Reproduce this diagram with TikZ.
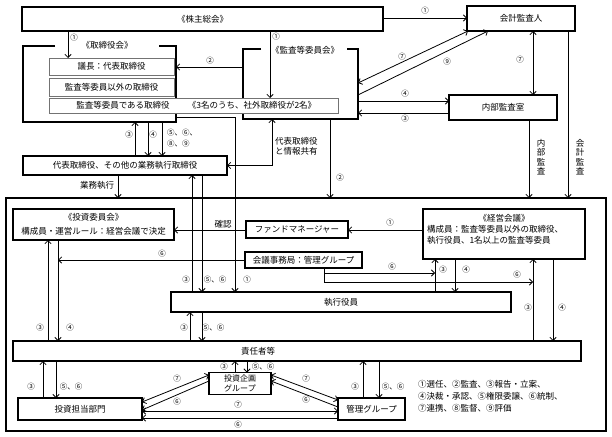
\documentclass[tikz,border=0pt]{standalone}
\usepackage{fontspec}
\setmainfont{Noto Sans CJK JP}
\usetikzlibrary{arrows.meta,calc}
\begin{document}
\begin{tikzpicture}[x=1pt,y=-1pt,
  every node/.style={inner sep=0pt, outer sep=0pt},
  thickbox/.style={draw, line width=1.6pt, fill=white, anchor=north west, font=\fontsize{8.5}{11}\selectfont, align=center},
  thinbox/.style={draw=black!55, line width=0.8pt, fill=white, anchor=north west, font=\fontsize{8.5}{11}\selectfont},
  frameline/.style={line width=1.6pt},
  txt/.style={font=\fontsize{8.5}{11}\selectfont},
  num/.style={font=\fontsize{7.5}{9}\selectfont},
  ln/.style={line width=0.8pt},
  arr/.style={ln, -{Straight Barb[length=3.2pt,width=6.4pt]}},
  darr/.style={ln, {Straight Barb[length=3.2pt,width=6.4pt]}-{Straight Barb[length=3.2pt,width=6.4pt]}}
]
\useasboundingbox (0,0) rectangle (612,436);

% big frame
\node[draw, line width=1.6pt, minimum width=600pt, minimum height=233pt, anchor=north west] (big) at (6,198) {};

% top area
\node[thickbox, minimum width=361pt, minimum height=24pt] (kabu) at (22,7) {《株主総会》};
\node[minimum width=153pt, minimum height=76pt, anchor=north west] (tfr) at (23,46) {};
\node[minimum width=115pt, minimum height=70pt, anchor=north west] (kfr) at (243,49) {};
\draw[frameline] ($(tfr.north west)+(32,0)$) -- (tfr.north west) -- (tfr.south west) -- (tfr.south east) -- (tfr.north east) -- ($(tfr.north east)+(-17,0)$);
\draw[frameline] ($(kfr.north west)+(18,0)$) -- (kfr.north west) -- (kfr.south west) -- (kfr.south east) -- (kfr.north east) -- ($(kfr.north east)+(-11,0)$);
\node[txt] (tfrL) at (107,45) {《取締役会》};
\node[txt] (kfrL) at (305,50) {《監査等委員会》};

\node[thinbox, minimum width=125pt, minimum height=17pt] (gichou) at (49,58) {議長：代表取締役};
\node[thinbox, minimum width=125pt, minimum height=18pt] (igai) at (49,78) {監査等委員以外の取締役};
\node[thinbox, minimum width=289pt, minimum height=15pt] (kt) at (49,98) {};
\node[txt] (ktA) at (123,105.5) {監査等委員である取締役};
\node[txt] (ktB) at (252,105.5) {《3名のうち、社外取締役が2名》};

\node[thickbox, minimum width=204pt, minimum height=19pt] (daihyo) at (23,156) {代表取締役、その他の業務執行取締役};
\node[thickbox, minimum width=108pt, minimum height=25pt] (kaikei) at (467,6) {会計監査人};
\node[thickbox, minimum width=108pt, minimum height=25pt] (naibu) at (449,95) {内部監査室};

% inside big frame
\node[thickbox, minimum width=161pt, minimum height=31pt, font=\fontsize{8.5}{13.5}\selectfont] (tiin) at (13,209) {《投資委員会》\\構成員・運営ルール：経営会議で決定};
\node[thickbox, minimum width=102pt, minimum height=17pt] (fund) at (246,221) {ファンドマネージャー};
\node[thickbox, minimum width=162pt, minimum height=50pt] (keiei) at (423,209) {};
\node[txt] (keieiT) at (504,218) {《経営会議》};
\node[txt, anchor=west, align=left, font=\fontsize{8.5}{10.5}\selectfont] (keieiB) at (427,235) {構成員：監査等委員以外の取締役、\\執行役員、1名以上の監査等委員};
\node[thickbox, minimum width=117pt, minimum height=16pt] (jim) at (245,252) {会議事務局：管理グループ};
\node[thickbox, minimum width=340pt, minimum height=20pt] (shikkou) at (171,292) {執行役員};
\node[thickbox, minimum width=568pt, minimum height=20pt] (sekinin) at (13,341) {};
\node[txt] (sekininT) at (258,351) {責任者等};
\node[thickbox, minimum width=124pt, minimum height=22pt] (tantou) at (18,398) {投資担当部門};
\node[thickbox, minimum width=62pt, minimum height=22pt, font=\fontsize{8}{10}\selectfont] (kikaku) at (209,372.5) {投資企画\\グループ};
\node[thickbox, minimum width=67pt, minimum height=22pt] (kanri) at (338,398) {管理グループ};

\node[txt, anchor=west, align=left, font=\fontsize{8.5}{12}\selectfont] (legend) at (418,396) {①選任、②監査、③報告・立案、\\④決裁・承認、⑤権限委譲、⑥統制、\\⑦連携、⑧監督、⑨評価};

% connectors, top
\draw[arr] ($(kabu.south west)+(46,0)$) -- ($(gichou.north west)+(19,0)$);
\draw[arr] ($(kabu.south west)+(248,0)$) -- ($(kt.north west)+(221,0)$);
\draw[arr] ($(kabu.north east)+(0,11)$) -- ($(kaikei.north west)+(0,12)$);
\draw[arr] ($(kfr.north west)+(0,18)$) -- ($(tfr.north east)+(0,21)$);
\draw[arr] ($(daihyo.north west)+(112,0)$) -- ($(tfr.south west)+(112,0)$);
\draw[arr] ($(tfr.south west)+(125,0)$) -- ($(daihyo.north west)+(125,0)$);
\draw[arr] ($(tfr.south west)+(139,0)$) -- ($(daihyo.north west)+(139,0)$);
\draw[arr] ($(tfr.south east)+(0,-5)$) -| ($(shikkou.north west)+(64,0)$);
\draw[darr] ($(kfr.south west)+(29,0)$) |- (daihyo.east);
\draw[arr] ($(kfr.south west)+(87,0)$) -- ($(big.north west)+(324,0)$);
\draw[darr] ($(kfr.north east)+(0,34)$) -- ($(kaikei.south west)+(1,0)$);
\draw[arr] ($(kfr.north east)+(0,46)$) -- ($(kaikei.south west)+(21,0)$);
\draw[darr] ($(kaikei.south west)+(66,0)$) -- ($(naibu.north west)+(84,0)$);
\draw[arr] ($(kfr.north east)+(0,52)$) -- ($(naibu.north west)+(0,6)$);
\draw[arr] ($(naibu.north west)+(0,18)$) -- ($(kfr.north east)+(0,64)$);
\draw[arr] ($(naibu.south west)+(80,0)$) -- ($(big.north west)+(523,0)$);
\draw[arr] ($(kaikei.south west)+(101,0)$) -- ($(big.north west)+(562,0)$);
\draw[arr] ($(daihyo.south west)+(95,0)$) -- ($(big.north west)+(112,0)$);

% connectors, inside
\draw[arr] ($(fund.north west)+(0,9)$) -- ($(tiin.north east)+(0,21)$);
\draw[arr] ($(keiei.north west)+(0,21)$) -- ($(fund.north east)+(0,9)$);
\coordinate (j6) at (58,260);
\draw[arr] ($(jim.north west)+(0,8)$) -- (j6);
\draw[arr] ($(jim.south west)+(79,0)$) |- ($(shikkou.north west)+(264,-19)$);
\draw[arr] ($(jim.south west)+(79,0)$) |- ($(sekinin.north west)+(520,-59)$);
\draw[arr] ($(shikkou.north west)+(21,0)$) -- ($(daihyo.south west)+(169,0)$);
\draw[arr] ($(daihyo.south west)+(179,0)$) -- ($(shikkou.north west)+(31,0)$);
\draw[arr] ($(shikkou.north west)+(264,0)$) -- ($(keiei.south west)+(12,0)$);
\draw[arr] ($(keiei.south west)+(32,0)$) -- ($(shikkou.north west)+(284,0)$);
\draw[arr] ($(sekinin.north west)+(520,0)$) -- ($(keiei.south west)+(110,0)$);
\draw[arr] ($(keiei.south west)+(130,0)$) -- ($(sekinin.north west)+(540,0)$);
\draw[arr] ($(sekinin.north west)+(35,0)$) -- ($(tiin.south west)+(35,0)$);
\draw[arr] ($(tiin.south west)+(45,0)$) -- ($(sekinin.north west)+(45,0)$);
\draw[arr] ($(sekinin.north west)+(177,0)$) -- ($(shikkou.south west)+(19,0)$);
\draw[arr] ($(shikkou.south west)+(31,0)$) -- ($(sekinin.north west)+(189,0)$);
\draw[arr] ($(tantou.north west)+(25,0)$) -- ($(sekinin.south west)+(30,0)$);
\draw[arr] ($(sekinin.south west)+(43,0)$) -- ($(tantou.north west)+(38,0)$);
\draw[arr] ($(kikaku.north west)+(26,0)$) -- ($(sekinin.south west)+(222,0)$);
\draw[arr] ($(sekinin.south west)+(234,0)$) -- ($(kikaku.north west)+(38,0)$);
\draw[arr] ($(kanri.north west)+(25,0)$) -- ($(sekinin.south west)+(350,0)$);
\draw[arr] ($(sekinin.south west)+(366,0)$) -- ($(kanri.north west)+(41,0)$);
\draw[darr] ($(tantou.north east)+(0,4)$) -- ($(kikaku.north west)+(0,2.5)$);
\draw[arr] ($(kikaku.north west)+(0,8.5)$) -- ($(tantou.north east)+(0,12)$);
\draw[darr] ($(kikaku.north east)+(0,2.5)$) -- ($(kanri.north west)+(0,2)$);
\draw[arr] ($(kanri.north west)+(0,9)$) -- ($(kikaku.north east)+(0,8.5)$);
\draw[darr] ($(tantou.north east)+(0,13)$) -- ($(kanri.north west)+(0,13)$);
\draw[arr] ($(kanri.north west)+(0,20)$) -- ($(tantou.north east)+(0,20)$);

% labels
\node[num] (n1) at (74,38) {①};
\node[num] (n2) at (276,37) {①};
\node[num] (n3) at (425,11) {①};
\node[num] (n4) at (210,61) {②};
\node[num] (n5) at (402,57) {⑦};
\node[num] (n6) at (447,62) {⑨};
\node[num] (n7) at (520,60) {⑦};
\node[num] (n8) at (405,94) {④};
\node[num] (n9) at (405,119) {③};
\node[num] (n10) at (129,135) {③};
\node[num] (n11) at (153,135) {④};
\node[num, anchor=west] (n12) at (167,133) {⑤、⑥、};
\node[num, anchor=west] (n13) at (167,144) {⑧、⑨};
\node[txt, anchor=north west, align=left, font=\fontsize{8.5}{10}\selectfont] (share) at (275,137) {代表取締役\\と情報共有};
\node[num] (n14) at (340,178) {②};
\node[txt] (gyomu) at (97,185) {業務執行};
\node[txt, align=center, font=\fontsize{8.5}{9.5}\selectfont] (naibuL) at (541,157) {内\\部\\監\\査};
\node[txt, align=center, font=\fontsize{8.5}{9.5}\selectfont] (kaikeiL) at (580,157) {会\\計\\監\\査};
\node[txt] (kakunin) at (223,224) {確認};
\node[num] (n15) at (390,223) {①};
\node[num] (n16) at (162,254) {⑥};
\node[num] (n17) at (392,267) {⑥};
\node[num] (n18) at (517,275) {⑥};
\node[num] (n19) at (443,270) {③};
\node[num] (n20) at (466,270) {④};
\node[num] (n21) at (528,308) {③};
\node[num] (n22) at (562,308) {④};
\node[num] (n23) at (186,280) {③};
\node[num] (n24) at (215,280) {⑤、⑥};
\node[num] (n25) at (247,280) {①};
\node[num] (n26) at (40,328) {③};
\node[num] (n27) at (70,328) {④};
\node[num] (n28) at (184,328) {③};
\node[num] (n29) at (213,328) {⑤、⑥};
\node[num] (n30) at (31,387) {③};
\node[num] (n31) at (71,387) {⑤、⑥};
\node[num] (n32) at (224,367) {③};
\node[num] (n33) at (263,367) {⑤、⑥};
\node[num] (n34) at (355,387) {③};
\node[num] (n35) at (393,387) {⑤、⑥};
\node[num] (n36) at (177,379) {⑦};
\node[num] (n37) at (177,402) {⑥};
\node[num] (n38) at (306,379) {⑦};
\node[num] (n39) at (306,400) {⑥};
\node[num] (n40) at (238,405) {⑦};
\node[num] (n41) at (238,425) {⑥};
\end{tikzpicture}
\end{document}
